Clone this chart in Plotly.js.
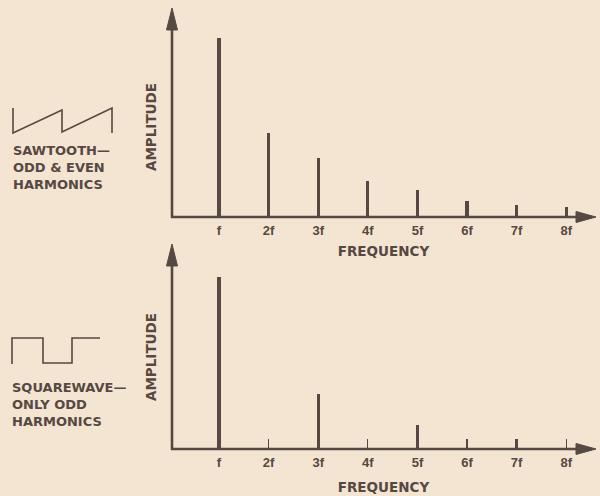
<!DOCTYPE html>
<html>
<head>
<meta charset="utf-8">
<script src="https://cdn.plot.ly/plotly-3.0.1.min.js"></script>
<style>html,body{margin:0;padding:0;background:#f3e5d1;}</style>
</head>
<body>
<div id="chart" style="width:600px;height:496px;"></div>
<script>
// ---- data ----
const harmonics = [1, 2, 3, 4, 5, 6, 7, 8];
const tickLabels = ['f', '2f', '3f', '4f', '5f', '6f', '7f', '8f'];
const sawtoothAmplitude = [1.0, 0.47, 0.33, 0.20, 0.15, 0.09, 0.067, 0.056];
const squarewaveAmplitude = [1.0, 0, 0.32, 0, 0.14, 0, 0.058, 0];
const sawtoothLabel = 'SAWTOOTH—<br>ODD &amp; EVEN<br>HARMONICS';
const squarewaveLabel = 'SQUAREWAVE—<br>ONLY ODD<br>HARMONICS';
const xTitle = 'FREQUENCY';
const yTitle = 'AMPLITUDE';

// ---- style ----
const W = 600, H = 496;
const ink = '#564842';
const bg = '#f3e5d1';
const wide = 'DejaVu Sans, Verdana, sans-serif';
const narrow = 'Liberation Sans, Arial, sans-serif';
const px = x => x / W;
const py = y => 1 - y / H;

const traces = [
  {type: 'bar', x: harmonics, y: sawtoothAmplitude, width: 0.062, marker: {color: ink, line: {width: 0}},
   xaxis: 'x', yaxis: 'y', hoverinfo: 'x+y', showlegend: false},
  {type: 'bar', x: harmonics, y: squarewaveAmplitude, width: 0.062, marker: {color: ink, line: {width: 0}},
   xaxis: 'x2', yaxis: 'y2', hoverinfo: 'x+y', showlegend: false}
];

function xAxis(anchor, standoff) {
  return {
    domain: [px(172), px(595)], range: [0.052, 8.58], anchor: anchor,
    tickmode: 'array', tickvals: harmonics, ticktext: tickLabels,
    ticks: 'inside', ticklen: 10, tickwidth: 1.3, tickcolor: ink, ticklabelstandoff: 4,
    tickfont: {family: narrow, size: 13, color: ink, weight: 'bold'},
    showgrid: false, zeroline: false, showline: false, fixedrange: true,
    title: {text: xTitle, font: {family: wide, size: 13.5, color: ink, weight: 'bold'}, standoff: standoff}
  };
}
function yAxis(anchor, domain, top) {
  return {
    domain: domain, range: [0, top], anchor: anchor,
    showticklabels: false, ticks: '', showgrid: false, zeroline: false, showline: false, fixedrange: true,
    title: {text: yTitle, font: {family: wide, size: 13.5, color: ink, weight: 'bold'}, standoff: 11}
  };
}

function path(pts, close) {
  return pts.map((p, i) => (i ? 'L' : 'M') + px(p[0]).toFixed(5) + ',' + py(p[1]).toFixed(5)).join(' ') + (close ? ' Z' : '');
}
function axisLine(pts) {
  return {type: 'path', xref: 'paper', yref: 'paper', path: path(pts), line: {color: ink, width: 2.6}};
}
function head(pts) {
  return {type: 'path', xref: 'paper', yref: 'paper', path: path(pts, true),
    fillcolor: ink, line: {color: ink, width: 1}};
}

const layout = {
  width: W, height: H,
  margin: {l: 0, r: 0, t: 0, b: 0},
  paper_bgcolor: bg, plot_bgcolor: 'rgba(0,0,0,0)',
  font: {family: narrow, size: 12, color: ink},
  bargap: 0,
  xaxis: xAxis('y', 9),
  yaxis: yAxis('x', [py(217), py(37)], 1.0056),
  xaxis2: xAxis('y2', 13),
  yaxis2: yAxis('x2', [py(449), py(265)], 1.07),
  annotations: [
    {xref: 'paper', yref: 'paper', x: px(11), y: py(141), xanchor: 'left', yanchor: 'top', align: 'left',
     text: sawtoothLabel, showarrow: false, font: {family: wide, size: 13, color: ink, weight: 'bold'}},
    {xref: 'paper', yref: 'paper', x: px(10), y: py(378), xanchor: 'left', yanchor: 'top', align: 'left',
     text: squarewaveLabel, showarrow: false, font: {family: wide, size: 13, color: ink, weight: 'bold'}}
  ],
  shapes: [
    // axes with arrowheads
    axisLine([[172, 218], [172, 26]]),
    head([[172, 8], [166.5, 30], [177.5, 30]]),
    axisLine([[171, 217], [578, 217]]),
    head([[596, 217], [576, 211.5], [576, 222.5]]),
    axisLine([[172, 450], [172, 262]]),
    head([[172, 244], [166.5, 266], [177.5, 266]]),
    axisLine([[171, 449], [578, 449]]),
    head([[596, 449], [576, 443.5], [576, 454.5]]),
    // waveform icons
    {type: 'path', xref: 'paper', yref: 'paper',
     path: path([[13, 108], [13, 133], [62, 110], [62, 132], [112, 108], [112, 133]]),
     line: {color: ink, width: 1.6}},
    {type: 'path', xref: 'paper', yref: 'paper',
     path: path([[12, 364], [12, 338], [43, 338], [43, 363], [72, 363], [72, 338], [100, 338]]),
     line: {color: ink, width: 1.6}}
  ]
};

Plotly.newPlot('chart', traces, layout, {displayModeBar: false, staticPlot: true});
</script>
</body>
</html>
